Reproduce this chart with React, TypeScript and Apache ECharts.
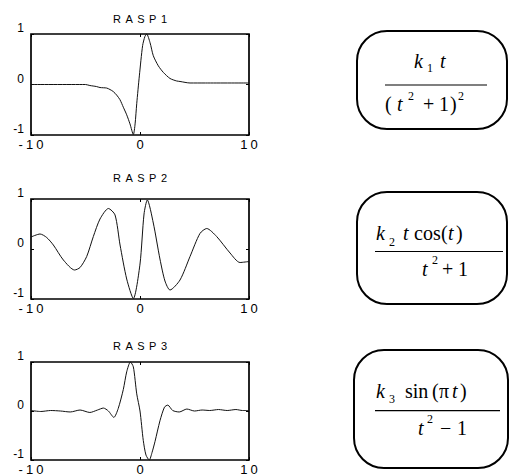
import React, { useEffect, useRef } from "react";
import * as echarts from "echarts";

// Axis ranges and tick values shared by the three wavelet panels
const xTicks = [-10, 0, 10];
const yTicks = [-1, 0, 1];
const panelTitles = ["RASP1", "RASP2", "RASP3"];

// RASP1 wavelet samples (t, value)
const rasp1T = [-10, -5, -4.6, -4.0, -3.67, -3.06, -2.75, -2.45, -2.14, -1.84, -1.53, -1.22, -0.92, -0.61, -0.45, -0.3, -0.06, 0.24, 0.45, 0.61, 0.92, 1.22, 1.68, 2.14, 2.75, 3.36, 3.67, 4.59, 6, 10];
const rasp1V = [0, 0, -0.02, -0.04, -0.06, -0.07, -0.1, -0.14, -0.21, -0.3, -0.45, -0.6, -0.78, -0.99, -0.78, -0.38, 0.17, 0.77, 0.95, 1.0, 0.83, 0.57, 0.37, 0.24, 0.12, 0.07, 0.06, 0.03, 0.03, 0.03];

// RASP2 wavelet samples
const rasp2T = [-10, -9.17, -8.56, -7.95, -7.03, -6.0, -5.5, -4.89, -4.28, -3.67, -2.9, -2.29, -1.83, -1.22, -0.61, 0, 0.37, 0.67, 1.22, 1.83, 2.29, 2.75, 3.67, 4.59, 5.5, 6.12, 7.03, 8.26, 9.17, 10];
const rasp2V = [0.24, 0.3, 0.23, 0.08, -0.22, -0.42, -0.37, -0.15, 0.25, 0.6, 0.81, 0.68, 0.08, -0.6, -0.99, -0.3, 0.7, 0.98, 0.52, -0.2, -0.64, -0.82, -0.62, -0.15, 0.31, 0.41, 0.25, -0.08, -0.27, -0.25];

// RASP3 wavelet samples
const rasp3T = [-10, -9.1, -8.2, -7.3, -6.4, -5.5, -4.6, -3.9, -3.36, -2.9, -2.4, -2.0, -1.53, -1.22, -0.88, -0.61, -0.3, 0, 0.3, 0.55, 0.85, 1.1, 1.38, 1.83, 2.25, 2.55, 3.0, 3.6, 4.3, 5.0, 5.7, 6.4, 7.2, 8.0, 8.8, 9.4, 10];
const rasp3V = [0.01, -0.01, 0.01, 0.0, -0.02, 0.02, -0.03, 0.02, 0.06, 0.0, -0.13, 0.05, 0.44, 0.8, 1.0, 0.9, 0.35, 0.0, -0.6, -0.9, -1.0, -0.85, -0.62, -0.2, 0.08, 0.12, 0.01, -0.02, 0.04, 0.0, 0.02, 0.01, 0.03, 0.01, 0.03, 0.01, 0.01];

const seriesT = [rasp1T, rasp2T, rasp3T];
const seriesV = [rasp1V, rasp2V, rasp3V];

const SANS = "'Liberation Sans', Arial, sans-serif";
const SERIF = "'Liberation Serif', 'Times New Roman', serif";

// panel boxes: [left, top, width, height]
const panels = [
  [31, 34, 218, 101],
  [31, 199, 218, 100],
  [31, 362, 218, 99],
];
const titleTops = [13, 172, 340];

type Piece = [string, number, number, number, boolean];

// glyph pieces of each formula: text, x, baseline, size, italic
const formulaPieces: Piece[][] = [
  [
    ["k", 414, 68, 20, true],
    ["1", 427, 72, 12, false],
    ["t", 440, 68, 20, true],
    ["(", 385, 111, 20, false],
    ["t", 397, 111, 20, true],
    ["2", 408, 100, 12, false],
    ["+", 423, 111, 20, false],
    ["1", 439, 111, 20, false],
    [")", 450, 111, 20, false],
    ["2", 458, 100, 12, false],
  ],
  [
    ["k", 376, 240, 20, true],
    ["2", 389, 246, 12, false],
    ["t", 403, 240, 20, true],
    ["cos", 414, 240, 20, false],
    ["(", 441, 240, 20, false],
    ["t", 448, 240, 20, true],
    [")", 456, 240, 20, false],
    ["t", 422, 276, 20, true],
    ["2", 432, 264, 12, false],
    ["+", 442, 276, 20, false],
    ["1", 458, 276, 20, false],
  ],
  [
    ["k", 376, 398, 20, true],
    ["3", 389, 403, 12, false],
    ["sin", 405, 398, 20, false],
    ["(", 432, 398, 20, false],
    ["π", 439, 398, 20, false],
    ["t", 452, 398, 20, true],
    [")", 460, 398, 20, false],
    ["t", 418, 435, 20, true],
    ["2", 427, 423, 12, false],
    ["−", 440, 435, 20, false],
    ["1", 457, 435, 20, false],
  ],
];
// fraction bars: x1, x2, y
const fractionBars = [
  [385, 487, 85],
  [375, 503, 251.5],
  [375, 500, 410.7],
];
// rounded frames: x, y, w, h
const frames = [
  [357, 31, 150, 98],
  [357, 192, 150, 112],
  [354, 350, 154, 118],
];

// letter spacing (px) for the spaced-out sans labels
const TITLE_SPACING = 4.5;
const XLABEL_SPACING = 3;

export default function App() {
  const ref = useRef<HTMLDivElement>(null);

  useEffect(() => {
    if (!ref.current) return;
    const el = ref.current;
    const chart = echarts.init(el, null, { renderer: "svg" });

    const grid = panels.map(([l, t, w, h]) => ({
      left: l,
      top: t,
      width: w,
      height: h,
      show: true,
      borderColor: "#000",
      borderWidth: 1.7,
      backgroundColor: "transparent",
    }));

    const tickStyle = { show: true, inside: true, length: 3, lineStyle: { color: "#000", width: 1 } };
    const hiddenLine = { show: false, onZero: false };

    const xAxis: any[] = [];
    const yAxis: any[] = [];
    panels.forEach((_, i) => {
      xAxis.push({
        type: "value",
        gridIndex: i,
        position: "bottom",
        min: xTicks[0],
        max: xTicks[xTicks.length - 1],
        interval: xTicks[1] - xTicks[0],
        axisLine: hiddenLine,
        splitLine: { show: false },
        axisTick: tickStyle,
        axisLabel: { color: "#000", fontSize: 13, fontFamily: SANS, margin: 3, showMinLabel: true, showMaxLabel: true },
      });
      yAxis.push({
        type: "value",
        gridIndex: i,
        position: "left",
        min: yTicks[0],
        max: yTicks[yTicks.length - 1],
        interval: yTicks[1] - yTicks[0],
        axisLine: hiddenLine,
        splitLine: { show: false },
        axisTick: tickStyle,
        axisLabel: { color: "#000", fontSize: 12, fontFamily: SANS, margin: 7, verticalAlign: "bottom", lineHeight: 12 },
      });
    });
    // mirrored tick marks on the top and right edges
    panels.forEach((_, i) => {
      xAxis.push({
        type: "value",
        gridIndex: i,
        position: "top",
        min: xTicks[0],
        max: xTicks[xTicks.length - 1],
        interval: xTicks[1] - xTicks[0],
        axisLine: hiddenLine,
        splitLine: { show: false },
        axisTick: tickStyle,
        axisLabel: { show: false },
      });
      yAxis.push({
        type: "value",
        gridIndex: i,
        position: "right",
        min: yTicks[0],
        max: yTicks[yTicks.length - 1],
        interval: yTicks[1] - yTicks[0],
        axisLine: hiddenLine,
        splitLine: { show: false },
        axisTick: tickStyle,
        axisLabel: { show: false },
      });
    });

    const series = seriesT.map((ts, i) => ({
      type: "line",
      xAxisIndex: i,
      yAxisIndex: i,
      data: ts.map((t, j) => [t, seriesV[i][j]]),
      showSymbol: false,
      symbol: "none",
      smooth: 0.25,
      lineStyle: { color: "#111", width: 1 },
      silent: true,
    }));

    const title = panelTitles.map((text, i) => ({
      text,
      left: 140,
      top: titleTops[i],
      textAlign: "center",
      padding: 0,
      textStyle: { fontSize: 11, fontWeight: "normal", color: "#000", fontFamily: SANS },
    }));

    const graphic: any[] = [];
    frames.forEach(([x, y, w, h]) => {
      graphic.push({
        type: "rect",
        shape: { x, y, width: w, height: h, r: 30 },
        style: { fill: "none", stroke: "#000", lineWidth: 2 },
      });
    });
    fractionBars.forEach(([x1, x2, y]) => {
      graphic.push({
        type: "line",
        shape: { x1, y1: y, x2, y2: y },
        style: { stroke: "#000", lineWidth: 1.2 },
      });
    });
    formulaPieces.forEach((pieces) => {
      pieces.forEach(([text, x, base, size, italic]) => {
        graphic.push({
          type: "text",
          x,
          y: base - 0.34 * size,
          style: {
            text,
            fontSize: size,
            fontFamily: SERIF,
            fontStyle: italic ? "italic" : "normal",
            fill: "#000",
            align: "left",
            verticalAlign: "middle",
          },
        });
      });
    });

    chart.setOption({
      animation: false,
      backgroundColor: "#fff",
      title,
      grid,
      xAxis,
      yAxis,
      series,
      graphic,
    });

    // spread the letters of the panel titles and x tick labels
    const xLabelTexts = new Set(xTicks.map(String));
    const spaceOut = () => {
      el.querySelectorAll("text").forEach((t) => {
        const s = (t.textContent || "").trim();
        let sp = 0;
        if (panelTitles.includes(s)) sp = TITLE_SPACING;
        else if (xLabelTexts.has(s) && getComputedStyle(t).fontSize === "13px") sp = XLABEL_SPACING;
        if (sp) {
          t.setAttribute("letter-spacing", String(sp));
          t.setAttribute("dx", String(sp / 2));
        }
      });
    };
    spaceOut();
    chart.on("finished", spaceOut);

    return () => chart.dispose();
  }, []);

  return (
    <div
      ref={ref}
      style={{ position: "absolute", left: 0, top: 0, width: 511, height: 476 }}
    />
  );
}
